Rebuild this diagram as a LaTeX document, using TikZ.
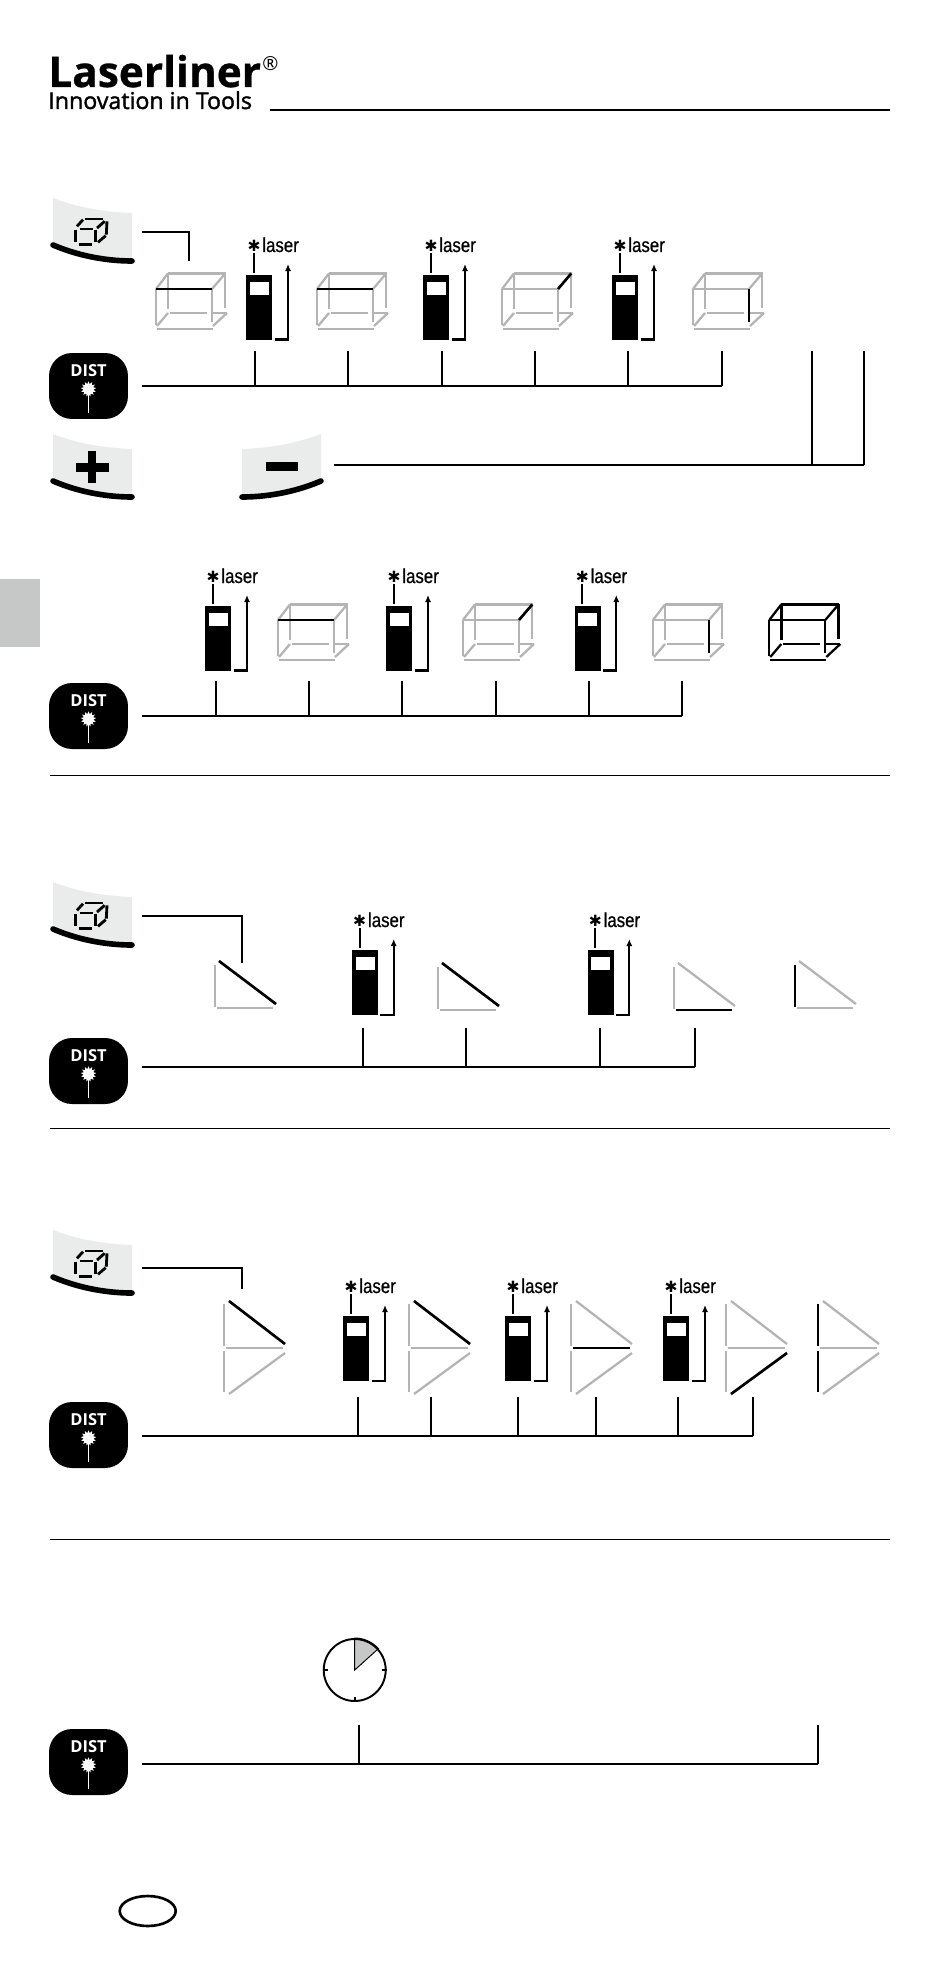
\documentclass[tikz,border=0pt]{standalone}
\usepackage{fontspec}
\setmainfont{Open Sans}
\newfontfamily\laserfont[FakeStretch=0.84,FakeBold=0.7]{Liberation Sans}
\newfontfamily\symfont{DejaVu Sans}
\newfontfamily\logofont[BoldFeatures={FakeBold=0.7}]{Open Sans}
\newfontfamily\claimfont[FakeBold=1.6]{Open Sans}
\usetikzlibrary{shapes.geometric, arrows.meta, positioning}
\definecolor{keygrey}{HTML}{EAEBEB}
\definecolor{wiregrey}{HTML}{B4B4B4}
\definecolor{tabgrey}{HTML}{C6C7C7}
\tikzset{
    bus/.style = {line width=1.15pt, black},
    rule/.style = {line width=0.55pt, black},
    wire/.style = {line width=1.3pt, wiregrey},
    hot/.style = {line width=1.5pt, black},
    seg/.style = {line width=1.6pt, black},
    body/.style = {fill=black, inner sep=0pt, minimum width=0.52cm, minimum height=1.3cm},
    window/.style = {fill=white, inner sep=0pt, minimum width=0.38cm, minimum height=0.26cm},
    lasertext/.style = {inner sep=0pt, font=\laserfont\fontsize{11.4}{12}\selectfont},
    hotstar/.style = {inner sep=0pt, font=\symfont\fontsize{8.8}{10}\selectfont},
    keybox/.style = {fill=black, rounded corners=0.46cm, inner sep=0pt, minimum width=1.58cm, minimum height=1.32cm},
    disttext/.style = {inner sep=0pt, text=white, font=\bfseries\fontsize{9.4}{11}\selectfont},
    burst/.style = {star, star points=13, star point ratio=1.55, fill=white, inner sep=0pt, minimum size=0.31cm},
    % laser device with its label and the arrow beside it
    device/.pic = {
        \node [body, anchor=north west] (-body) at (0,0) {};
        \node [window, below=0.14cm of -body.north] (-win) {};
        \node [lasertext, anchor=base west] (-txt) at (16,-23) {laser};
        \node [hotstar] (-mark) at (8,-29) {✱};
        \coordinate (-ta) at (8,-22);
        \coordinate (-tb) at (8,-2);
        \draw [bus] (-ta) -- (-tb);
        \coordinate (-aa) at (28.5,64.5);
        \coordinate (-ab) at (42,-11);
        \draw [bus, -{Latex[length=4pt,width=3.5pt]}] (-aa) -| (-ab);
    },
    % black round key with the laser beam
    distkey/.pic = {
        \node [keybox] (-box) at (0,0) {};
        \node [disttext] (-txt) at (0,-15) {DIST};
        \node [burst] (-burst) at (0,3) {};
        \coordinate (-end) at (0,27);
        \draw [white, line width=0.6pt] (-burst.center) -- (-end);
    },
    softkey/.pic = {
        \fill [keygrey] (0,0) .. controls (26,10) and (52,14) .. (79,15) -- (79,62)
            .. controls (50,62) and (24,57) .. (0,47) -- cycle;
        \draw [line width=3.2pt, line cap=round] (0,47) .. controls (22,56.5) and (50,63) .. (79,63);
    },
    % key with the segmented cube on it
    cubekey/.pic = {
        \pic {softkey};
        \draw [seg] (22.7,31.7) -- (22.7,44.3);
        \draw [seg] (26.7,31) -- (40,31);
        \draw [seg] (25.7,46.7) -- (39.3,46.7);
        \draw [seg] (42.7,31.7) -- (42.7,44.3);
        \draw [seg] (31.7,21) -- (50,21);
        \draw [seg] (54,23.3) -- (53.3,36.7);
        \draw [seg] (24,28.3) -- (30,21.7);
        \draw [seg] (44,30) -- (51.7,23.3);
        \draw [seg] (45,44.3) -- (52.7,37.7);
    },
    box/.pic = {
        \draw [wire] (0,0) coordinate (-fta) -- (56,0) coordinate (-ftb);
        \draw [wire] (0,0) -- (0,36);
        \draw [wire] (56,0) coordinate (-fra) -- (56,33) coordinate (-frb);
        \draw [wire] (1,40) -- (57,40);
        \draw [wire] (12,-15.6) -- (70,-15.6);
        \draw [wire] (12.3,-15.6) -- (12.3,20);
        \draw [wire] (69.3,-15.6) -- (69.3,19);
        \draw [wire] (0,0) -- (12,-15.6);
        \draw [wire] (56,0) coordinate (-dra) -- (69.3,-15.6) coordinate (-drb);
        \draw [wire] (14,24) -- (51,24);
        \draw [wire] (57,24) -- (71,24);
        \draw [wire] (1,37) -- (12,24);
        \draw [wire] (57,37) -- (71,24);
    },
    wedge/.pic = {
        \draw [wire] (0,0) coordinate (-sa) -- (0,42) coordinate (-sb);
        \draw [wire] (2,43) coordinate (-ba) -- (58,43) coordinate (-bb);
        \draw [wire] (4,-4) coordinate (-ha) -- (61,39) coordinate (-hb);
    },
    twowedge/.pic = {
        \draw [wire] (0,0) coordinate (-ua) -- (0,42) coordinate (-ub);
        \draw [wire] (0,47) coordinate (-la) -- (0,88) coordinate (-lb);
        \draw [wire] (2,44) coordinate (-ma) -- (59,44) coordinate (-mb);
        \draw [wire] (5,-3) coordinate (-ha) -- (61,40) coordinate (-hb);
        \draw [wire] (5,90) coordinate (-da) -- (61,49) coordinate (-db);
    }
}
\begin{document}
\begin{tikzpicture}[x=0.02cm, y=-0.02cm]
  \useasboundingbox (0,0) rectangle (950,1970);
  % logo
  \node [anchor=base west, inner sep=0pt, font=\logofont\bfseries\fontsize{24.1}{26}\selectfont] (logo) at (48,87) {Laserliner};
  \node [anchor=center, inner sep=0pt, font=\fontsize{11}{11}\selectfont] (reg) at (270.5,64) {®};
  \node [anchor=base west, inner sep=0pt, font=\claimfont\fontsize{13.2}{14}\selectfont] (claim) at (48,109) {Innovation in Tools};
  \coordinate (h1) at (270,110);
  \coordinate (h2) at (890,110);
  \draw [bus] (h1) -- (h2);
  % side tab
  \node [fill=tabgrey, inner sep=0pt, minimum width=0.8cm, minimum height=1.36cm, anchor=north west] (tab) at (0,579) {};
  % separators
  \foreach \y [count=\i] in {775,1128,1539} {
    \coordinate (r\i a) at (50,\y);
    \coordinate (r\i b) at (890,\y);
    \draw [rule] (r\i a) -- (r\i b);
  }
  % keys on the left
  \foreach \r/\y in {1/386,2/716,3/1071,4/1435,5/1762}
    \pic (k\r) at (88.5,\y) {distkey};
  \pic (c1) at (53,198) {cubekey};
  \pic (c2) at (53,882) {cubekey};
  \pic (c3) at (53,1230) {cubekey};
  \pic (plus) at (53,434) {softkey};
  \pic [xscale=-1] (minus) at (321,434) {softkey};
  \fill (75.5,462.5) rectangle (109,471.5);
  \fill (88.2,451) rectangle (96,483);
  \fill (266,462) rectangle (298,471);
  % lines from the cube keys
  \foreach \i/\ax/\ay/\bx/\by in {1/142/232/189/261, 2/142/916/242/963, 3/142/1268/242/1289} {
    \coordinate (f\i a) at (\ax,\ay);
    \coordinate (f\i b) at (\bx,\by);
    \draw [bus] (f\i a) -| (f\i b);
  }
  % bus lines with their ticks
  \foreach \r/\sx/\y/\up/\ticks in {
      1/142/386/351/{255,348,442,535,628,722},
      m/334/465/351/{812,864},
      2/142/716/681/{216,309,402,495.7,589,682},
      3/142/1067/1028/{362.7,465.7,600,695},
      4/142/1436/1397/{358,431,518,596,678,753},
      5/142/1764/1725/{359,818}} {
    \coordinate (s\r) at (\sx,\y);
    \foreach \x [count=\i] in \ticks {
      \coordinate (t\r-\i) at (\x,\up);
      \draw [bus] (s\r) -- (t\r-\i |- s\r);
      \draw [bus] (t\r-\i) -- (t\r-\i |- s\r);
    }
  }
  % devices
  \foreach \x/\y [count=\i] in {246/275,423/275,612/275,205/606,386/606,574.3/606,351.7/950,587.3/950,343/1316,505/1316,663/1316}
    \pic (d\i) at (\x,\y) {device};
  % boxes
  \foreach \x/\y [count=\i] in {156/289,317/289,502/289,693/289,278/620,463/620,653/620}
    \pic (b\i) at (\x,\y) {box};
  \pic [wire/.append style={black}] (b8) at (769.3,620) {box};
  \foreach \i in {1,2,5}
    \draw [hot] (b\i-fta) -- (b\i-ftb);
  \foreach \i in {3,6}
    \draw [hot] (b\i-dra) -- (b\i-drb);
  \foreach \i in {4,7}
    \draw [hot] (b\i-fra) -- (b\i-frb);
  % single wedges
  \pic (w1) at (215,965) {wedge};
  \pic (w2) at (438,967) {wedge};
  \pic (w3) at (674,967) {wedge};
  \pic (w4) at (795,965) {wedge};
  \draw [hot] (w1-ha) -- (w1-hb);
  \draw [hot] (w2-ha) -- (w2-hb);
  \draw [hot] (w3-ba) -- (w3-bb);
  \draw [hot] (w4-sa) -- (w4-sb);
  % double wedges
  \foreach \x [count=\i] in {224,409,571,726,818}
    \pic (v\i) at (\x,1304) {twowedge};
  \draw [hot] (v1-ha) -- (v1-hb);
  \draw [hot] (v2-ha) -- (v2-hb);
  \draw [hot] (v3-ma) -- (v3-mb);
  \draw [hot] (v4-da) -- (v4-db);
  \draw [hot] (v5-ua) -- (v5-ub);
  \draw [hot] (v5-la) -- (v5-lb);
  % clock
  \coordinate (hub) at (354.7,1670);
  \filldraw [fill=tabgrey, line width=0.55pt] (hub) -- +(0,-32) arc [start angle=90, end angle=42, radius=0.64cm] -- cycle;
  \node [circle, draw, line width=1.1pt, inner sep=0pt, minimum size=1.24cm] (clock) at (hub) {};
  \draw [bus] (clock.west) -- +(5,0);
  \draw [bus] (clock.east) -- +(-5,0);
  \draw [bus] (clock.south) -- +(0,-5);
  % country mark
  \node [ellipse, draw, line width=1.5pt, inner sep=0pt, minimum width=1.12cm, minimum height=0.6cm] (land) at (147.7,1911) {};
\end{tikzpicture}
\end{document}
